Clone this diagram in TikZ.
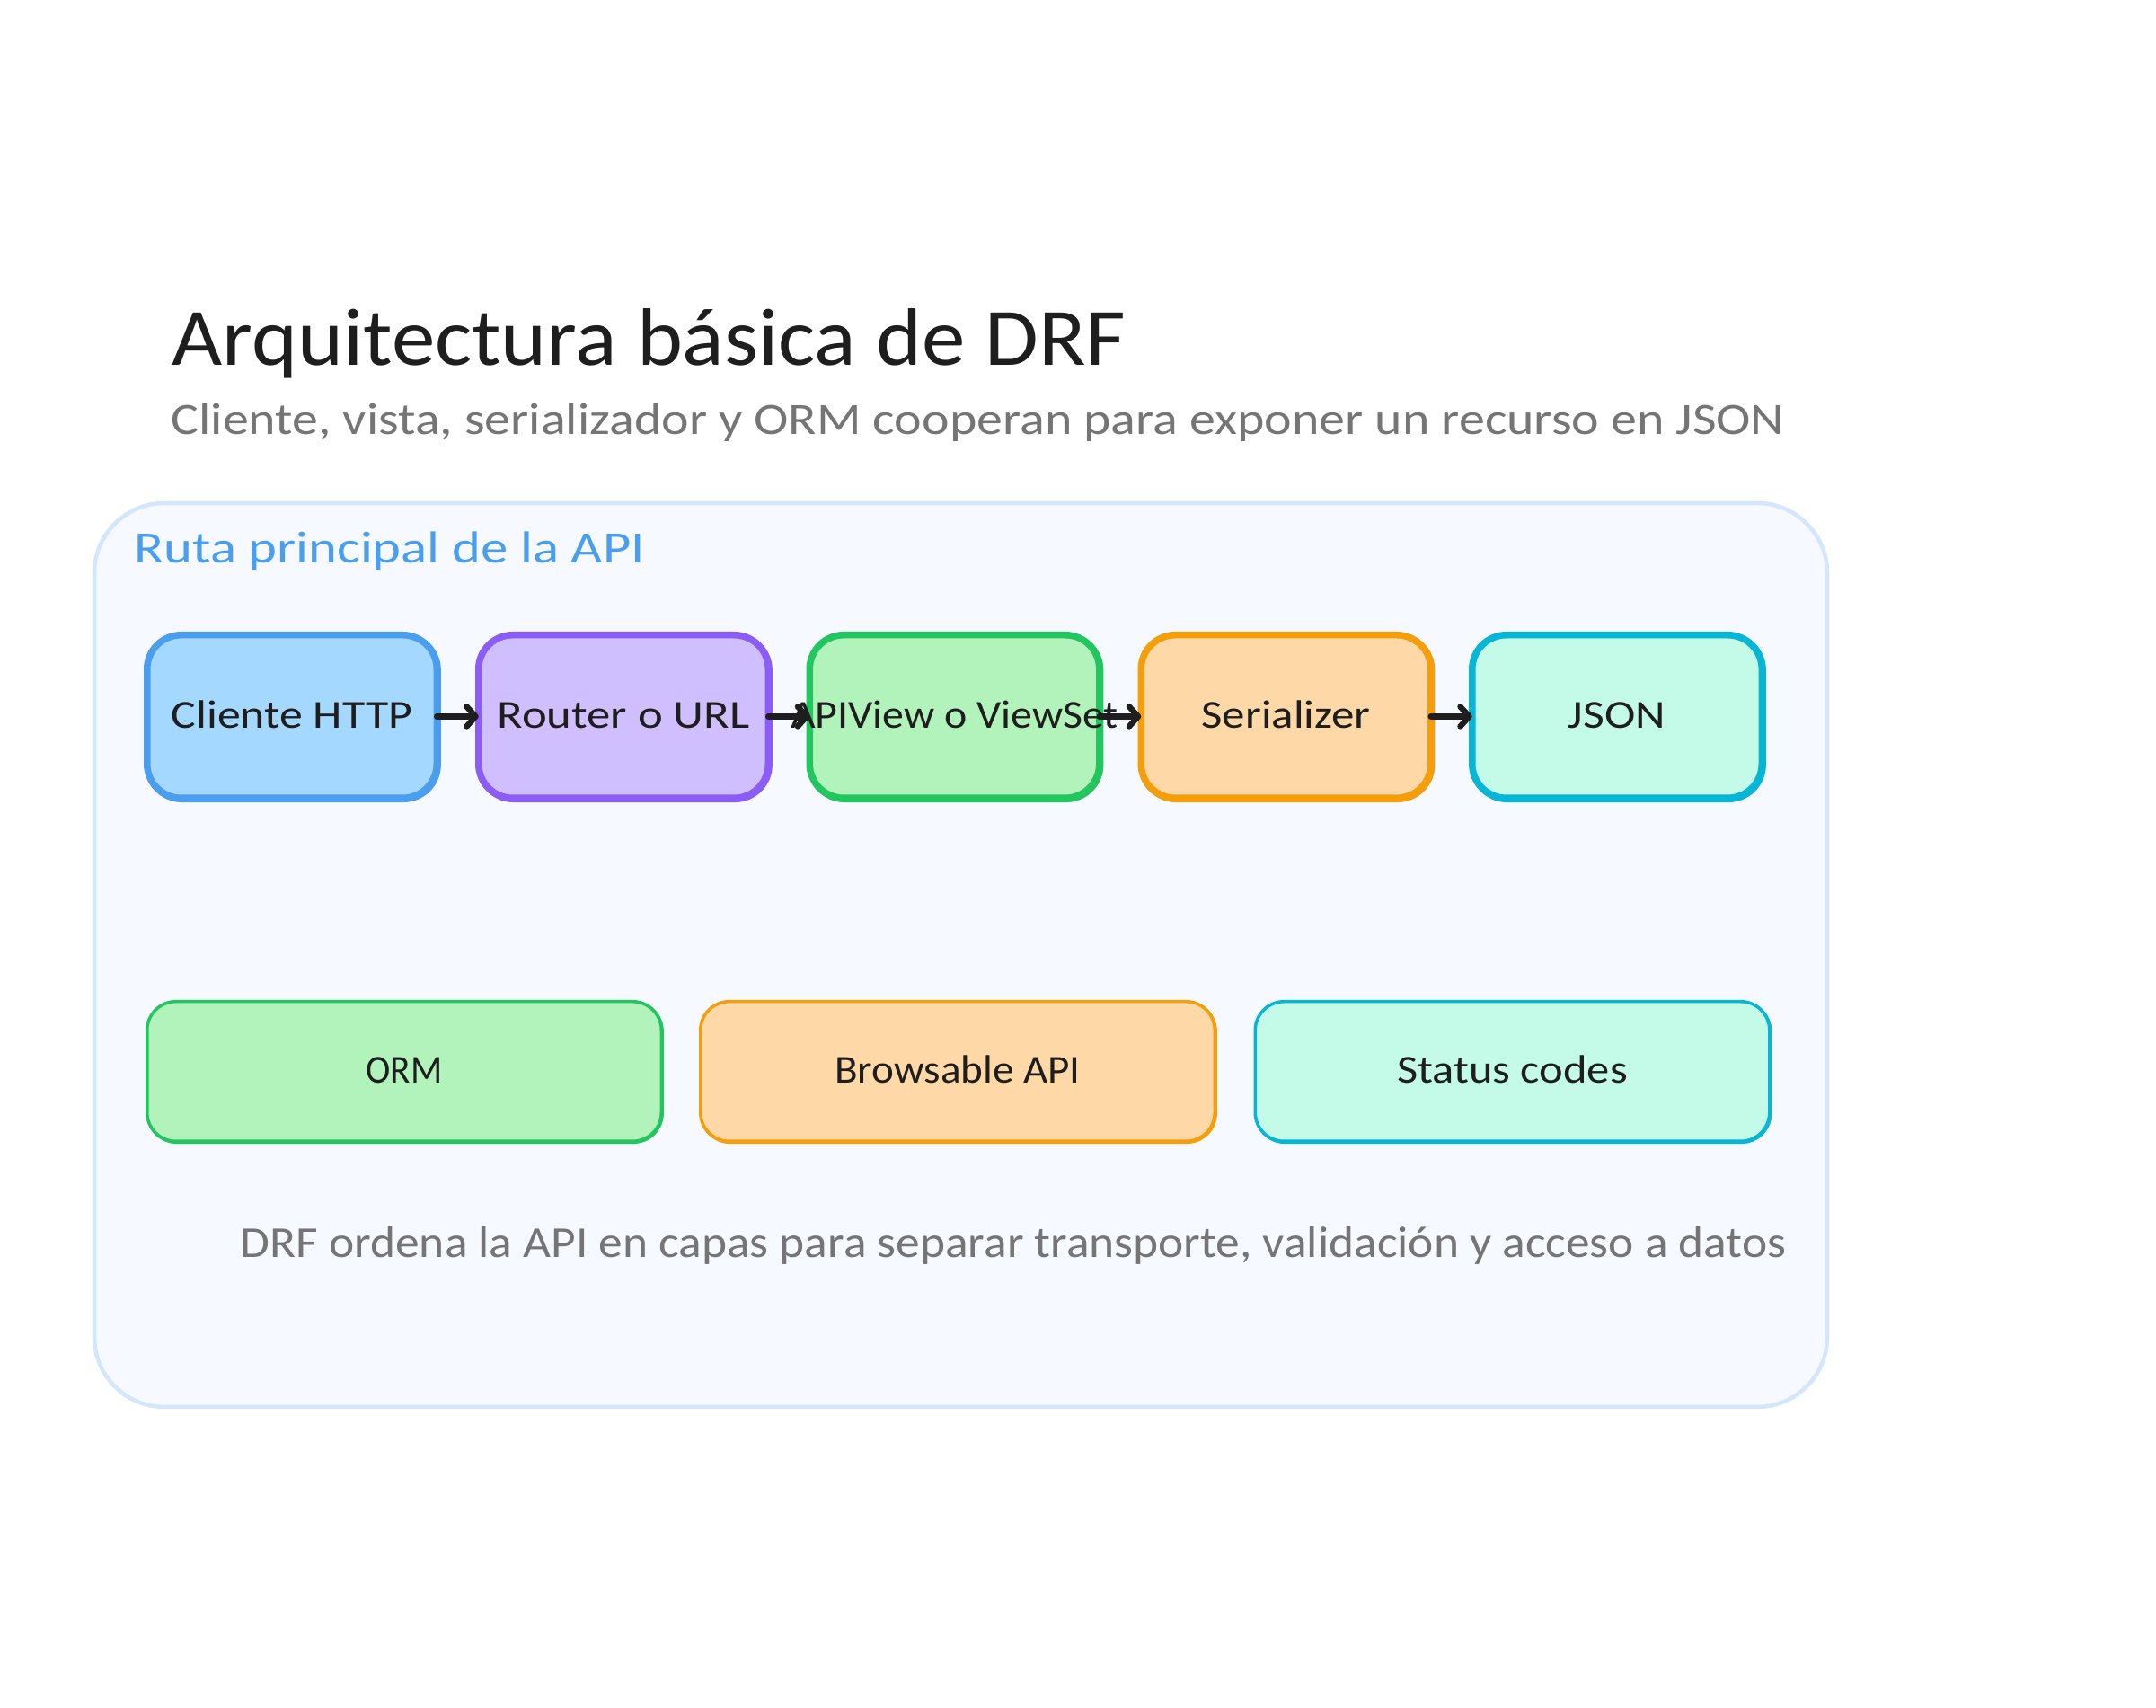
\documentclass[tikz,border=0pt]{standalone}
\usepackage{fontspec}
\setmainfont{Carlito}
\usetikzlibrary{arrows.meta}

\definecolor{tinta}{HTML}{1E1E1E}
\definecolor{gris}{HTML}{757575}
\definecolor{azul}{HTML}{4A9EED}
\definecolor{azulf}{HTML}{A5D8FF}
\definecolor{lila}{HTML}{8B5CF6}
\definecolor{lilaf}{HTML}{D0BFFF}
\definecolor{verde}{HTML}{22C55E}
\definecolor{verdef}{HTML}{B2F2BB}
\definecolor{naranja}{HTML}{F59E0B}
\definecolor{naranjaf}{HTML}{FFD8A8}
\definecolor{cian}{HTML}{06B6D4}
\definecolor{cianf}{HTML}{C3FAE8}
\definecolor{panelf}{HTML}{F6F9FF}
\definecolor{panelb}{HTML}{D3E6FC}

% tamano y ancho de letra
\newcommand{\letra}[2]{\fontsize{#1}{#1}\selectfont\addfontfeature{FakeStretch=#2}}

\tikzset{
  caja/.style 2 args={draw=#1,fill=#2,text=tinta,inner sep=0pt,outer sep=0pt,
    text height=0.42cm,text depth=0.15cm,
    preaction={draw=#1,transform canvas={xshift=0.25pt,yshift=-0.3pt}}},
  alta/.style={minimum width=3.225cm,minimum height=1.815cm,rounded corners=0.38cm,line width=0.075cm},
  baja/.style={minimum width=5.725cm,minimum height=1.555cm,rounded corners=0.32cm,line width=0.035cm},
  flecha/.style={draw=tinta,line width=0.065cm,line cap=round,-{Straight Barb[length=0.10cm,width=0.22cm,round]}},
  rotulo/.style={anchor=base west,inner sep=0pt},
}

\begin{document}
\begin{tikzpicture}[scale=1]
\def\filaalta{11.025}
\def\filabaja{7.075}

\useasboundingbox (0,0) rectangle (24,19);

% titulo
\node[rotulo,text=tinta,font=\letra{25.8}{1.07}] (titulo) at (1.91,14.93) {Arquitectura básica de DRF};
\node[rotulo,text=gris,font=\letra{14.2}{1.16}] (subtitulo) at (1.90,14.16) {Cliente, vista, serializador y ORM cooperan para exponer un recurso en JSON};

% panel
\node[draw=panelb,fill=panelf,line width=0.045cm,rounded corners=0.78cm,minimum width=19.29cm,minimum height=10.06cm,inner sep=0pt] (panel) at (10.695,8.37) {};
\node[rotulo,text=azul,font=\letra{14.2}{1.215}] (ruta) at (1.49,12.73) {Ruta principal de la API};

% fila de arriba
\node[caja={azul}{azulf},alta,font=\letra{12.6}{1.17}] (cliente) at (3.25,\filaalta) {Cliente HTTP};
\node[caja={lila}{lilaf},alta,font=\letra{12.6}{1.19}] (router) at (6.94,\filaalta) {Router o URL};
% el texto se sale de la caja
\node[caja={verde}{verdef},alta,font=\letra{12.6}{1.08}] (vista) at (10.625,\filaalta) {\makebox[0pt]{APIView o ViewSet}};
\node[caja={naranja}{naranjaf},alta,font=\letra{12.6}{1.15}] (serial) at (14.315,\filaalta) {Serializer};
\node[caja={cian}{cianf},alta,font=\letra{12.6}{1.17}] (json) at (18.00,\filaalta) {JSON};

\draw[flecha] (cliente) -- (router);
\draw[flecha] (router) -- (vista);
\draw[flecha] (vista) -- (serial);
\draw[flecha] (serial) -- (json);

% fila de abajo
\node[caja={verde}{verdef},baja,font=\letra{12.6}{0.93}] (orm) at (4.50,\filabaja) {ORM};
\node[caja={naranja}{naranjaf},baja,font=\letra{12.6}{1.065}] (browsable) at (10.66,\filabaja) {Browsable API};
\node[caja={cian}{cianf},baja,font=\letra{12.6}{1.14}] (status) at (16.835,\filabaja) {Status codes};

\node[rotulo,text=gris,font=\letra{14}{1.086}] (nota) at (2.67,5.00) {DRF ordena la API en capas para separar transporte, validación y acceso a datos};

\end{tikzpicture}
\end{document}
